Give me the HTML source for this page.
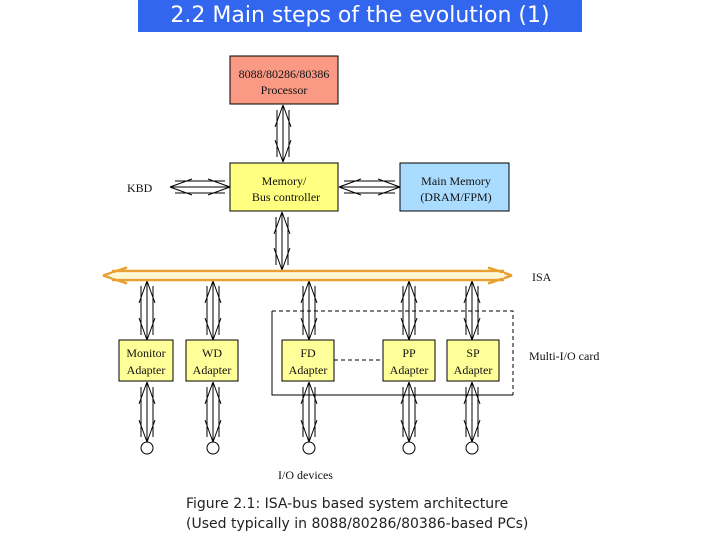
<!DOCTYPE html>
<html><head><meta charset="utf-8"><style>
body{margin:0;width:720px;height:540px;background:#fff;overflow:hidden;position:relative;font-family:"Liberation Serif",serif}
.t{position:absolute;left:138px;top:0;width:444px;height:32px;background:#3366ee;color:#fff;font:22px "DejaVu Sans",sans-serif;text-align:center;line-height:32px}
.cap{position:absolute;left:186px;top:494px;font:14px "DejaVu Sans",sans-serif;line-height:20px;color:#222}
</style></head><body>
<div class="t">2.2 Main steps of the evolution (1)</div>
<svg width="720" height="540" style="position:absolute;left:0;top:0" font-family="Liberation Serif, serif" font-size="12">
<g stroke="#000" stroke-width="1">
<rect x="230" y="56" width="108" height="48" fill="#fa9a84"/>
<rect x="230" y="163" width="108" height="48" fill="#ffff80"/>
<rect x="400" y="163" width="109" height="48" fill="#aadcff"/>
<rect x="119" y="340" width="54" height="41" fill="#ffff99"/>
<rect x="186" y="340" width="52" height="41" fill="#ffff99"/>
<rect x="282" y="340" width="52" height="41" fill="#ffff99"/>
<rect x="383" y="340" width="52" height="41" fill="#ffff99"/>
<rect x="447" y="340" width="52" height="41" fill="#ffff99"/>
<path d="M272 311V395H513" fill="none"/>
<path d="M272 311H513V395M334 360H383" fill="none" stroke-dasharray="4,3"/>
<g fill="#fff"><circle cx="147" cy="448" r="6"/><circle cx="213" cy="448" r="6"/><circle cx="309" cy="448" r="6"/><circle cx="409" cy="448" r="6"/><circle cx="472" cy="448" r="6"/></g>
<g fill="none">
<path d="M283 105v57M277 110v47M289 110v47M283 105l-8 22M283 105l8 22M283 162l-8-22M283 162l8-22"/>
<path d="M282 212v58M276 217v48M288 217v48M282 212l-8 22M282 212l8 22M282 270l-8-22M282 270l8-22"/>
<path d="M170 187h60M175 181h50M175 193h50M170 187l22-8M170 187l22 8M230 187l-22-8M230 187l-22 8"/>
<path d="M339 187h61M344 181h51M344 193h51M339 187l22-8M339 187l22 8M400 187l-22-8M400 187l-22 8"/>
</g>
<g fill="none" id="cols">
<path d="M147 281v59M141 286v49M153 286v49M147 281l-8 22M147 281l8 22M147 340l-8-22M147 340l8-22"/>
<path d="M147 382v60M141 387v50M153 387v50M147 382l-8 22M147 382l8 22M147 442l-8-22M147 442l8-22"/>
</g>
<use href="#cols" x="66"/><use href="#cols" x="162"/><use href="#cols" x="262"/><use href="#cols" x="325"/>
</g>
<g stroke="#e8a030" stroke-width="2.5" fill="none">
<path d="M112 271H504M112 280H504M103 275.5l24-8M103 275.5l24 8M512 275.5l-24-8M512 275.5l-24 8"/>
</g>
<path d="M112 273H504V278H112Z" fill="#fff8d0"/>
<g fill="#111" text-anchor="middle">
<text x="284" y="78">8088/80286/80386</text><text x="284" y="94">Processor</text>
<text x="284" y="185">Memory/</text><text x="286" y="201">Bus controller</text>
<text x="456" y="185">Main Memory</text><text x="456" y="201">(DRAM/FPM)</text>
<text x="146" y="357">Monitor</text><text x="146" y="374">Adapter</text>
<text x="212" y="357">WD</text><text x="212" y="374">Adapter</text>
<text x="308" y="357">FD</text><text x="308" y="374">Adapter</text>
<text x="409" y="357">PP</text><text x="409" y="374">Adapter</text>
<text x="473" y="357">SP</text><text x="473" y="374">Adapter</text>
</g>
<g fill="#111">
<text x="127" y="192">KBD</text>
<text x="532" y="281">ISA</text>
<text x="529" y="360">Multi-I/O card</text>
<text x="278" y="479">I/O devices</text>
</g>
</svg>
<div class="cap">Figure 2.1: ISA-bus based system architecture<br>(Used typically in 8088/80286/80386-based PCs)</div>
</body></html>
